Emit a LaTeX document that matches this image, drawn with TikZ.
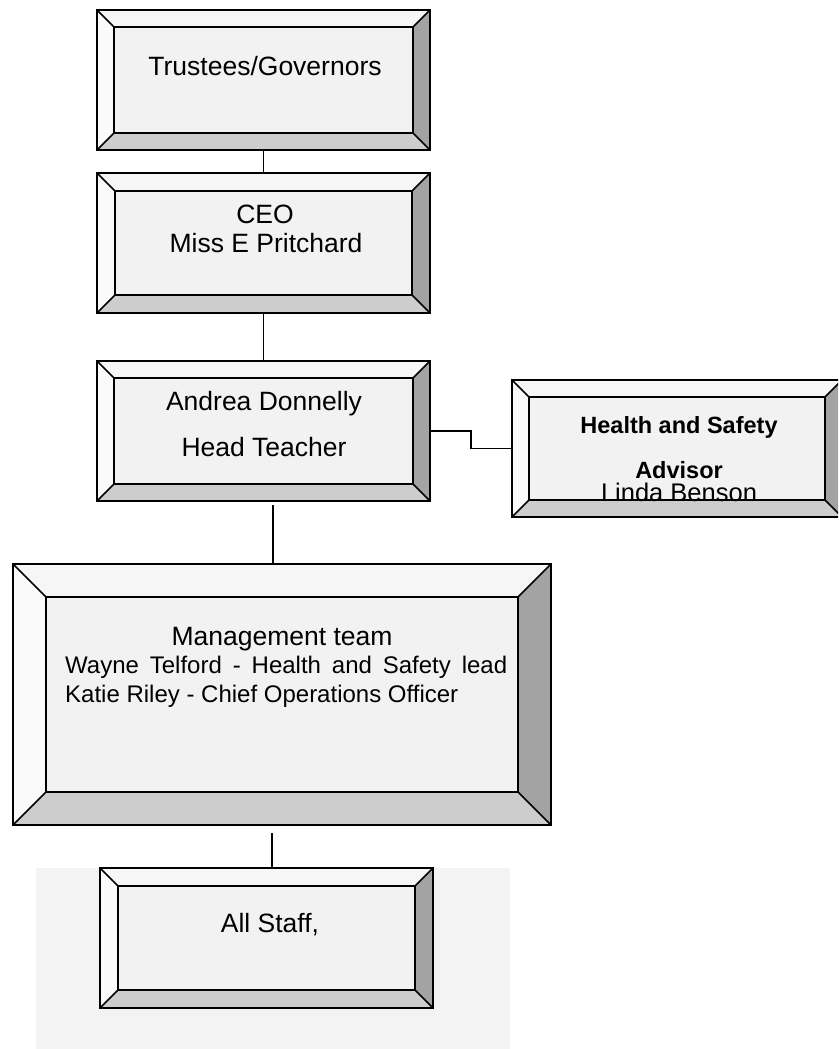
\documentclass[tikz,border=0pt]{standalone}
\usepackage{fontspec}
\setmainfont{Liberation Sans}
\definecolor{bevtop}{HTML}{F6F6F6}
\definecolor{bevleft}{HTML}{FAFAFA}
\definecolor{bevface}{HTML}{F2F2F2}
\definecolor{bevbot}{HTML}{CDCDCD}
\definecolor{bevright}{HTML}{A3A3A3}
\definecolor{staffbg}{HTML}{F3F3F3}
\tikzset{
  outerbox/.style={draw=black, line width=2.3pt, inner sep=0pt, outer sep=0pt, rectangle},
  bevline/.style={draw=black, line width=1.6pt, line join=miter},
  conn/.style={draw=black, line width=1.9pt},
  bigtxt/.style={font=\fontsize{26.5}{30}\selectfont, inner sep=0pt, anchor=base},
  midtxt/.style={font=\fontsize{24}{28}\selectfont, inner sep=0pt, anchor=base west},
  hstxt/.style={font=\fontsize{23.5}{28}\selectfont\bfseries, inner sep=0pt, anchor=base},
}
% #1 name, #2 x1, #3 y1, #4 x2, #5 y2, #6 bevel
\newcommand\bevelbox[6]{%
  \fill[bevtop] (#2,#3) -- (#4,#3) -- ({#4-#6},{#3+#6}) -- ({#2+#6},{#3+#6}) -- cycle;
  \fill[bevleft] (#2,#3) -- ({#2+#6},{#3+#6}) -- ({#2+#6},{#5-#6}) -- (#2,#5) -- cycle;
  \fill[bevright] (#4,#3) -- (#4,#5) -- ({#4-#6},{#5-#6}) -- ({#4-#6},{#3+#6}) -- cycle;
  \fill[bevbot] (#2,#5) -- (#4,#5) -- ({#4-#6},{#5-#6}) -- ({#2+#6},{#5-#6}) -- cycle;
  \fill[bevface] ({#2+#6},{#3+#6}) rectangle ({#4-#6},{#5-#6});
  \draw[bevline] ({#2+#6},{#3+#6}) rectangle ({#4-#6},{#5-#6});
  \draw[bevline] (#2,#3) -- ({#2+#6},{#3+#6});
  \draw[bevline] (#4,#3) -- ({#4-#6},{#3+#6});
  \draw[bevline] (#2,#5) -- ({#2+#6},{#5-#6});
  \draw[bevline] (#4,#5) -- ({#4-#6},{#5-#6});
  \node[outerbox, minimum width={(#4-#2)*1pt}, minimum height={(#5-#3)*1pt}] (#1) at ({(#2+#4)/2},{(#3+#5)/2}) {};
}
\begin{document}
\begin{tikzpicture}[x=1pt, y=-1pt]
\useasboundingbox (0,0) rectangle (838,1049);
\begin{scope}
\clip (0,0) rectangle (838,1049);
% background behind All Staff
\fill[staffbg] (36,868) rectangle (510,1049);

\bevelbox{trustees}{97}{10}{430}{150}{17}
\bevelbox{ceo}{97}{173}{430}{313}{18}
\bevelbox{andrea}{97}{361}{430}{501}{17}
\bevelbox{hs}{512}{380}{842}{517}{17}
\bevelbox{mgmt}{13}{564}{551}{825}{33}
\bevelbox{staff}{100}{868}{433}{1008}{18}

% texts
\node[bigtxt] (ttrust) at (265,75) {Trustees/Governors};
\node[bigtxt] (tceo1) at (265,223) {CEO};
\node[bigtxt] (tceo2) at (266,252) {Miss E Pritchard};
\node[bigtxt] (tand1) at (264,410) {Andrea Donnelly};
\node[bigtxt] (tand2) at (264,456) {Head Teacher};
\node[hstxt] (ths1) at (679,433) {Health and Safety};
\node[hstxt] (ths2) at (679,478) {Advisor};
\node[font=\fontsize{25.5}{28}\selectfont, inner sep=0pt, anchor=base] (ths3) at (679,501) {Linda Benson};
\node[bigtxt] (tm0) at (282,645) {Management team};
\node[midtxt] (tm1) at (65,673) {\makebox[442pt][s]{Wayne Telford - Health and Safety lead}};
\node[midtxt] (tm2) at (65,702) {Katie Riley - Chief Operations Officer};
\node[bigtxt] (tstaff) at (270,932) {All Staff,};

% connectors
\coordinate (hsjog) at (471,440);
\coordinate (am) at (273,505);
\coordinate (ms) at (272,833);
\draw[conn] (trustees.south) -- (ceo.north);
\draw[conn] (ceo.south) -- (andrea.north);
\draw[conn] (andrea.east) -- (andrea.east -| hsjog) -- (hsjog |- hs.west) -- (hs.west);
\draw[conn] (am) -- (am |- mgmt.north);
\draw[conn] (ms) -- (ms |- staff.north);
\end{scope}
\end{tikzpicture}
\end{document}
